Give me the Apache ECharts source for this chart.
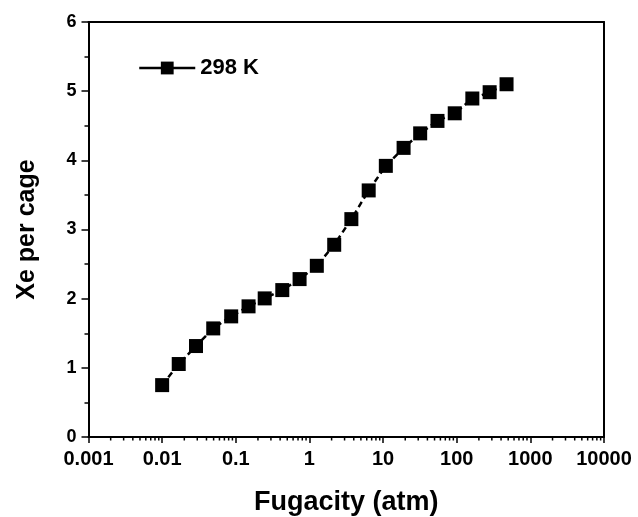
<!DOCTYPE html>
<html>
<head>
<meta charset="utf-8">
<script src="https://cdn.jsdelivr.net/npm/echarts@6/dist/echarts.min.js"></script>
<style>
html,body{margin:0;padding:0;background:#fff;}
#chart{width:638px;height:517px;}
</style>
</head>
<body>
<div id="chart"></div>
<script>
// Data
const seriesName = '298 K';
const fugacity = [0.0100, 0.0168, 0.0288, 0.0494, 0.0866, 0.149, 0.247, 0.428, 0.735, 1.26, 2.17,
                  3.71, 6.38, 10.9, 19.0, 31.9, 54.8, 94.0, 163, 280, 475];
const xePerCage = [0.75, 1.055, 1.315, 1.57, 1.744, 1.889, 2.004, 2.124, 2.283, 2.475, 2.779,
                   3.15, 3.565, 3.92, 4.18, 4.39, 4.57, 4.68, 4.894, 4.985, 5.10];
const xTickLabels = ['0.001', '0.01', '0.1', '1', '10', '100', '1000', '10000'];
const yTickLabels = ['0', '1', '2', '3', '4', '5', '6'];
const xMinorTicks = [];
[0.001, 0.01, 0.1, 1, 10, 100, 1000].forEach(function (d) {
  for (let k = 2; k <= 9; k++) xMinorTicks.push(+(d * k).toPrecision(3));
});

const FONT = '"Liberation Sans", Arial, sans-serif';
const chart = echarts.init(document.getElementById('chart'));
const points = fugacity.map((f, i) => [f, xePerCage[i]]);

chart.setOption({
  backgroundColor: '#ffffff',
  animation: false,
  grid: { left: 88.5, right: 34, top: 22, bottom: 80, containLabel: false, outerBoundsMode: 'none' },
  legend: {
    show: true,
    left: 138, top: 57, padding: 0,
    itemWidth: 56, itemHeight: 16,
    itemGap: 6,
    data: [seriesName],
    textStyle: { fontFamily: FONT, fontWeight: 'bold', fontSize: 22, color: '#000' },
    lineStyle: { type: 'solid', width: 2.5 }
  },
  xAxis: [{
    type: 'log', logBase: 10, min: 0.001, max: 10000,
    name: 'Fugacity (atm)', nameLocation: 'middle', nameGap: 52,
    nameTextStyle: { fontFamily: FONT, fontWeight: 'bold', fontSize: 27, color: '#000' },
    axisLine: { show: true, onZero: false, lineStyle: { color: '#000', width: 2 } },
    axisTick: { show: true, inside: false, length: 6, lineStyle: { color: '#000', width: 1.5 } },
    axisLabel: {
      margin: 12, fontFamily: FONT, fontWeight: 'bold', fontSize: 20, color: '#000',
      formatter: function (v, i) { return xTickLabels[i]; }
    },
    splitLine: { show: false }
  }, {
    type: 'log', logBase: 10, min: 0.001, max: 10000, position: 'top',
    axisLine: { show: true, onZero: false, lineStyle: { color: '#000', width: 2 } },
    axisTick: { show: false }, axisLabel: { show: false }, splitLine: { show: false }
  }],
  yAxis: [{
    type: 'value', min: 0, max: 6, interval: 1,
    name: 'Xe per cage', nameLocation: 'middle', nameGap: 49, nameRotate: 90,
    nameTextStyle: { fontFamily: FONT, fontWeight: 'bold', fontSize: 25, color: '#000' },
    axisLine: { show: true, onZero: false, lineStyle: { color: '#000', width: 2 } },
    axisTick: { show: true, inside: false, length: 7, lineStyle: { color: '#000', width: 1.5 } },
    minorTick: { show: true, splitNumber: 2, length: 4, lineStyle: { color: '#000', width: 1.5 } },
    axisLabel: {
      margin: 12, fontFamily: FONT, fontWeight: 'bold', fontSize: 18, color: '#000',
      formatter: function (v, i) { return yTickLabels[i]; }
    },
    splitLine: { show: false }
  }, {
    type: 'value', min: 0, max: 6, position: 'right',
    axisLine: { show: true, onZero: false, lineStyle: { color: '#000', width: 2 } },
    axisTick: { show: false }, axisLabel: { show: false }, splitLine: { show: false }
  }],
  series: [{
    name: seriesName,
    type: 'line',
    data: points,
    symbol: 'rect',
    symbolSize: 14,
    lineStyle: { color: '#000', width: 2.5, type: [6, 4] },
    itemStyle: { color: '#000' },
    z: 3
  }, {
    name: 'minorTicks',
    type: 'custom',
    xAxisIndex: 0, yAxisIndex: 0,
    silent: true,
    clip: false,
    data: xMinorTicks.map(v => [v, 0]),
    renderItem: function (params, api) {
      const p = api.coord([api.value(0), 0]);
      return {
        type: 'line',
        shape: { x1: p[0], y1: p[1], x2: p[0], y2: p[1] + 3.5 },
        style: { stroke: '#000', lineWidth: 1.5 }
      };
    }
  }]
});
</script>
</body>
</html>
